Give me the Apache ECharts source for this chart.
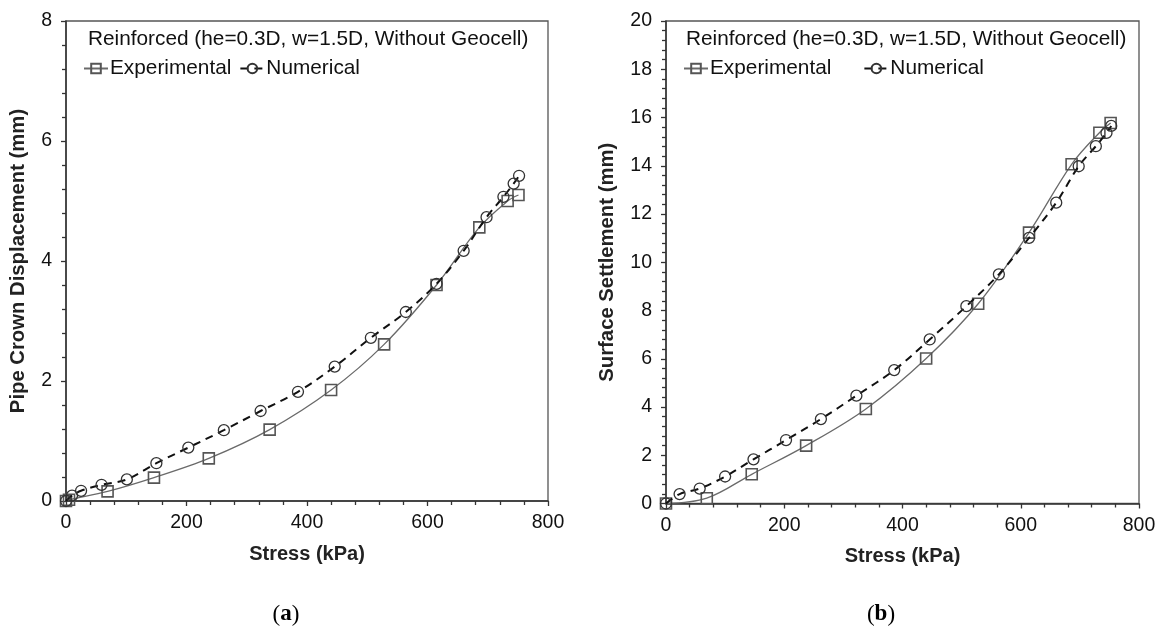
<!DOCTYPE html>
<html>
<head>
<meta charset="utf-8">
<script src="https://cdn.jsdelivr.net/npm/echarts@6/dist/echarts.min.js"></script>
<style>
  html, body { margin: 0; padding: 0; background: #fff; }
  #chart { width: 1164px; height: 628px; }
</style>
</head>
<body>
<div id="chart"></div>
<script>
// Panel (a): pipe crown displacement vs. applied stress
const expStressA = [0, 5, 69, 146, 237, 338, 440, 528, 615, 686, 733, 751];
const expDispA   = [0, 0.02, 0.16, 0.39, 0.71, 1.19, 1.85, 2.61, 3.60, 4.56, 5.00, 5.10];
const numStressA = [0, 10, 25, 59, 101, 150, 203, 262, 323, 385, 446, 506, 564, 615, 660, 698, 726, 743, 752];
const numDispA   = [0, 0.09, 0.17, 0.27, 0.36, 0.63, 0.89, 1.18, 1.50, 1.82, 2.24, 2.72, 3.15, 3.62, 4.17, 4.73, 5.07, 5.29, 5.42];

// Panel (b): surface settlement vs. applied stress
const expStressB  = [0, 69, 145, 237, 338, 440, 528, 614, 686, 733, 752];
const expSettleB  = [0, 0.22, 1.21, 2.40, 3.92, 6.01, 8.28, 11.23, 14.06, 15.37, 15.77];
const numStressB  = [0, 23, 57, 100, 148, 203, 262, 322, 386, 446, 508, 563, 614, 660, 698, 727, 745, 753];
const numSettleB  = [0, 0.39, 0.62, 1.12, 1.83, 2.63, 3.50, 4.47, 5.53, 6.80, 8.18, 9.50, 11.01, 12.47, 13.98, 14.81, 15.36, 15.65];

const stressTicks = [0, 200, 400, 600, 800];
const panelTitle = 'Reinforced (he=0.3D, w=1.5D, Without Geocell)';
const seriesNames = ['Experimental', 'Numerical'];
const yNames = ['Pipe Crown Displacement (mm)', 'Surface Settlement (mm)'];
const xName = 'Stress (kPa)';

const FONT = '"Liberation Sans", Arial, Helvetica, sans-serif';
const SERIF = '"Liberation Serif", "Times New Roman", serif';
const pairs = (xs, ys) => xs.map((x, i) => [x, ys[i]]);

function xAxisFor(gridIndex) {
  return {
    type: 'value', gridIndex,
    min: stressTicks[0], max: stressTicks[stressTicks.length - 1], interval: 200,
    name: xName, nameLocation: 'middle', nameGap: 43,
    nameTextStyle: { fontFamily: FONT, fontSize: 20, fontWeight: 'bold', color: '#222' },
    axisLine: { show: true, lineStyle: { color: '#333', width: 1.5 } },
    axisTick: { show: true, inside: false, length: 5, lineStyle: { color: '#333', width: 1.3 } },
    minorTick: { show: true, splitNumber: 5, length: 4, lineStyle: { color: '#333', width: 1.3 } },
    axisLabel: { fontFamily: FONT, fontSize: 19.5, color: '#111', margin: 12 },
    splitLine: { show: false }
  };
}

function yAxisFor(gridIndex, max, nameGap) {
  return {
    type: 'value', gridIndex,
    min: 0, max, interval: 2,
    name: yNames[gridIndex], nameLocation: 'middle', nameGap,
    nameTextStyle: { fontFamily: FONT, fontSize: 20.3, fontWeight: 'bold', color: '#222' },
    axisLine: { show: true, lineStyle: { color: '#333', width: 1.5 } },
    axisTick: { show: true, inside: false, length: 5, lineStyle: { color: '#333', width: 1.3 } },
    minorTick: { show: true, splitNumber: 5, length: 4, lineStyle: { color: '#333', width: 1.3 } },
    axisLabel: { fontFamily: FONT, fontSize: 19.5, color: '#111', margin: 14 },
    splitLine: { show: false }
  };
}

function expSeries(idx, data) {
  return {
    name: seriesNames[0], type: 'line', xAxisIndex: idx, yAxisIndex: idx,
    data, smooth: 0.35,
    symbol: 'rect', symbolSize: 11,
    lineStyle: { color: '#6a6a6a', width: 1.3, type: 'solid' },
    itemStyle: { color: 'rgba(0,0,0,0)', borderColor: '#555', borderWidth: 1.6 },
    emphasis: { disabled: true }, z: 3
  };
}

function numSeries(idx, data) {
  return {
    name: seriesNames[1], type: 'line', xAxisIndex: idx, yAxisIndex: idx,
    data, smooth: 0.35,
    symbol: 'circle', symbolSize: 11,
    lineStyle: { color: '#111', width: 2, type: [8, 6] },
    itemStyle: { color: 'rgba(0,0,0,0)', borderColor: '#333', borderWidth: 1.3 },
    emphasis: { disabled: true }, z: 4
  };
}

function legendFor(left, gap) {
  return {
    left, top: 58, orient: 'horizontal', padding: 0,
    data: seriesNames, itemWidth: 24, itemHeight: 12, itemGap: gap,
    selectedMode: false,
    textStyle: { fontFamily: FONT, fontSize: 20.8, color: '#111', padding: [0, 0, 0, -3] }
  };
}

function panelLabel(letter, x) {
  return {
    text: '{p|(}{b|' + letter + '}{p|)}', left: x, top: 603, textAlign: 'center', padding: 0,
    textStyle: {
      fontWeight: 'normal',
      rich: {
        p: { fontFamily: SERIF, fontSize: 23, fontWeight: 'normal', color: '#000' },
        b: { fontFamily: SERIF, fontSize: 23, fontWeight: 'bold', color: '#000' }
      }
    }
  };
}

const titleStyle = { fontFamily: FONT, fontSize: 20.8, fontWeight: 'normal', color: '#111' };

const option = {
  backgroundColor: '#fff',
  animation: false,
  title: [
    { text: panelTitle, left: 88, top: 29, padding: 0, textStyle: titleStyle },
    { text: panelTitle, left: 686, top: 29, padding: 0, textStyle: titleStyle },
    panelLabel('a', 286),
    panelLabel('b', 881)
  ],
  legend: [legendFor(83, 8), legendFor(683, 32)],
  grid: [
    { left: 66, top: 21, width: 482, height: 480, show: true, borderColor: '#555', borderWidth: 1.3, backgroundColor: 'transparent' },
    { left: 666, top: 21, width: 473, height: 482.5, show: true, borderColor: '#555', borderWidth: 1.3, backgroundColor: 'transparent' }
  ],
  xAxis: [xAxisFor(0), xAxisFor(1)],
  yAxis: [yAxisFor(0, 8, 38), yAxisFor(1, 20, 49)],
  series: [
    expSeries(0, pairs(expStressA, expDispA)),
    numSeries(0, pairs(numStressA, numDispA)),
    expSeries(1, pairs(expStressB, expSettleB)),
    numSeries(1, pairs(numStressB, numSettleB))
  ]
};

const chart = echarts.init(document.getElementById('chart'), null, { renderer: 'canvas' });
chart.setOption(option);
</script>
</body>
</html>
